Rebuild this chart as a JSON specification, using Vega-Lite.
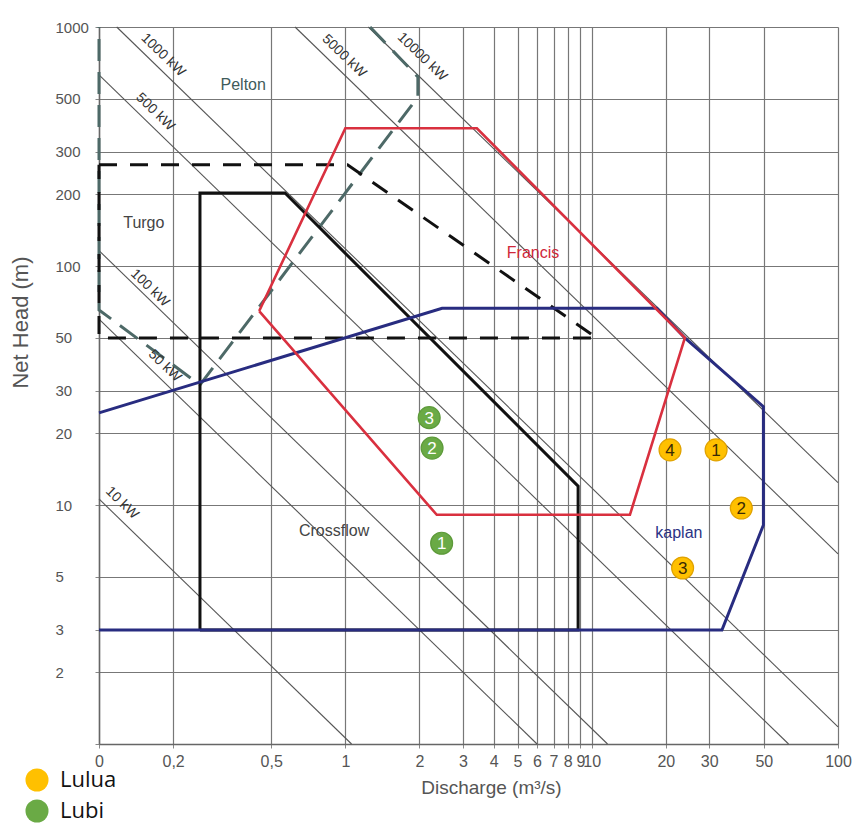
{
  "$schema": "https://vega.github.io/schema/vega-lite/v6.json",
  "width": 739,
  "height": 717,
  "autosize": {"type": "none"},
  "padding": {"left": 99, "top": 27, "right": 17, "bottom": 84},
  "background": "white",
  "config": {"font": "Liberation Sans", "view": {"stroke": null}},
  "datasets": {
    "paths": [
      {"g": "Pelton", "i": 0, "Q": 1.26, "H": 1000},
      {"g": "Pelton", "i": 1, "Q": 1.97, "H": 618},
      {"g": "Pelton", "i": 2, "Q": 1.97, "H": 509},
      {"g": "Pelton", "i": 3, "Q": 0.257, "H": 31.8},
      {"g": "Pelton", "i": 4, "Q": 0.1, "H": 65.5},
      {"g": "Pelton", "i": 5, "Q": 0.1, "H": 1000},
      {"g": "Turgo", "i": 0, "Q": 0.1, "H": 265},
      {"g": "Turgo", "i": 1, "Q": 1.02, "H": 265},
      {"g": "Turgo", "i": 2, "Q": 10.5, "H": 50},
      {"g": "Turgo", "i": 3, "Q": 0.1, "H": 50},
      {"g": "Turgo", "i": 4, "Q": 0.1, "H": 265},
      {"g": "Crossflow", "i": 0, "Q": 0.257, "H": 3},
      {"g": "Crossflow", "i": 1, "Q": 0.257, "H": 202},
      {"g": "Crossflow", "i": 2, "Q": 0.569, "H": 202},
      {"g": "Crossflow", "i": 3, "Q": 8.81, "H": 12.0},
      {"g": "Crossflow", "i": 4, "Q": 8.81, "H": 3},
      {"g": "Crossflow", "i": 5, "Q": 0.257, "H": 3},
      {"g": "Kaplan", "i": 0, "Q": 0.1, "H": 24.3},
      {"g": "Kaplan", "i": 1, "Q": 2.47, "H": 66.5},
      {"g": "Kaplan", "i": 2, "Q": 18.4, "H": 66.5},
      {"g": "Kaplan", "i": 3, "Q": 23.9, "H": 50},
      {"g": "Kaplan", "i": 4, "Q": 49.8, "H": 25.8},
      {"g": "Kaplan", "i": 5, "Q": 49.8, "H": 8.25},
      {"g": "Kaplan", "i": 6, "Q": 33.8, "H": 3},
      {"g": "Kaplan", "i": 7, "Q": 0.1, "H": 3},
      {"g": "Francis", "i": 0, "Q": 0.447, "H": 64.8},
      {"g": "Francis", "i": 1, "Q": 1.0, "H": 377},
      {"g": "Francis", "i": 2, "Q": 3.42, "H": 377},
      {"g": "Francis", "i": 3, "Q": 23.9, "H": 50},
      {"g": "Francis", "i": 4, "Q": 14.3, "H": 9.1},
      {"g": "Francis", "i": 5, "Q": 2.35, "H": 9.1},
      {"g": "Francis", "i": 6, "Q": 0.447, "H": 64.8}
    ],
    "power": [
      {"kw": "10", "Q": 0.1, "H": 10.6}, {"kw": "10", "Q": 1.06, "H": 1},
      {"kw": "50", "Q": 0.1, "H": 60}, {"kw": "50", "Q": 6.0, "H": 1},
      {"kw": "100", "Q": 0.1, "H": 116}, {"kw": "100", "Q": 11.6, "H": 1},
      {"kw": "500", "Q": 0.1, "H": 630}, {"kw": "500", "Q": 63, "H": 1},
      {"kw": "1000", "Q": 0.118, "H": 1000}, {"kw": "1000", "Q": 100, "H": 1.18},
      {"kw": "5000", "Q": 0.625, "H": 1000}, {"kw": "5000", "Q": 100, "H": 6.25},
      {"kw": "10000", "Q": 1.24, "H": 1000}, {"kw": "10000", "Q": 100, "H": 12.4}
    ],
    "powerLabels": [
      {"t": "10 kW", "Q": 0.124, "H": 10.2},
      {"t": "50 kW", "Q": 0.185, "H": 38.2},
      {"t": "100 kW", "Q": 0.161, "H": 80.9},
      {"t": "500 kW", "Q": 0.169, "H": 441},
      {"t": "1000 kW", "Q": 0.182, "H": 763},
      {"t": "5000 kW", "Q": 0.988, "H": 756},
      {"t": "10000 kW", "Q": 2.05, "H": 749}
    ],
    "regionLabels": [
      {"t": "Pelton", "Q": 0.385, "H": 572},
      {"t": "Turgo", "Q": 0.152, "H": 151},
      {"t": "Francis", "Q": 5.78, "H": 113},
      {"t": "Crossflow", "Q": 0.9, "H": 7.79},
      {"t": "kaplan", "Q": 22.6, "H": 7.64}
    ],
    "points": [
      {"site": "Lulua", "n": "1", "Q": 32.0, "H": 17.0},
      {"site": "Lulua", "n": "2", "Q": 40.5, "H": 9.71},
      {"site": "Lulua", "n": "3", "Q": 23.4, "H": 5.45},
      {"site": "Lulua", "n": "4", "Q": 20.8, "H": 17.0},
      {"site": "Lubi", "n": "1", "Q": 2.46, "H": 6.92},
      {"site": "Lubi", "n": "2", "Q": 2.25, "H": 17.3},
      {"site": "Lubi", "n": "3", "Q": 2.19, "H": 23.2}
    ]
  },
  "encoding": {
    "x": {
      "field": "Q", "type": "quantitative",
      "scale": {"type": "log", "domain": [0.1, 100], "nice": false},
      "axis": {
        "values": [0.1, 0.2, 0.5, 1, 2, 3, 4, 5, 6, 7, 8, 9, 10, 20, 30, 50, 100],
        "labelExpr": "datum.value < 0.15 ? '0' : datum.value == 10 ? '\u00a0\u00a010' : replace(format(datum.value, ''), '.', ',')",
        "title": "Discharge (m³/s)",
        "titleFont": "Liberation Sans",
        "titleFontSize": 19, "titleFontWeight": "normal", "titleColor": "#555",
        "titleX": 392, "titleY": 49, "titleAlign": "center", "titleBaseline": "alphabetic",
        "labelFontSize": 16, "labelColor": "#555", "labelOverlap": false, "labelFlush": false,
        "labelPadding": 5, "tickSize": 4, "tickColor": "#888",
        "grid": true, "gridColor": "#777", "gridWidth": 1.2,
        "domainColor": "#666", "domainWidth": 1.5
      }
    },
    "y": {
      "field": "H", "type": "quantitative",
      "scale": {"type": "log", "domain": [1, 1000], "nice": false},
      "axis": {
        "values": [1, 2, 3, 5, 10, 20, 30, 50, 100, 200, 300, 500, 1000],
        "labelExpr": "datum.value == 1 ? '' : format(datum.value, 'd')",
        "title": "Net Head (m)",
        "titleFontSize": 22, "titleFontWeight": "normal", "titleColor": "#555",
        "titleX": -72, "titleY": 295, "titleAlign": "center", "titleBaseline": "alphabetic",
        "labelAlign": "left", "labelPadding": 40, "labelFontSize": 15, "labelColor": "#555",
        "labelOverlap": false, "labelFlush": false,
        "tickSize": 4, "tickColor": "#888",
        "grid": true, "gridColor": "#777", "gridWidth": 1.2,
        "domainColor": "#666", "domainWidth": 1.5
      }
    }
  },
  "layer": [
    {
      "data": {"name": "power"},
      "mark": {"type": "line", "color": "#555", "strokeWidth": 1.1},
      "encoding": {"detail": {"field": "kw"}}
    },
    {
      "data": {"name": "paths"},
      "transform": [{"filter": "datum.g == 'Pelton'"}],
      "mark": {"type": "line", "color": "#4d6967", "strokeWidth": 3, "strokeDash": [22, 11]},
      "encoding": {"order": {"field": "i"}}
    },
    {
      "data": {"name": "paths"},
      "transform": [{"filter": "datum.g == 'Turgo'"}],
      "mark": {"type": "line", "color": "#111", "strokeWidth": 3, "strokeDash": [18, 13]},
      "encoding": {"order": {"field": "i"}}
    },
    {
      "data": {"name": "paths"},
      "transform": [{"filter": "datum.g == 'Crossflow'"}],
      "mark": {"type": "line", "color": "#111", "strokeWidth": 3},
      "encoding": {"order": {"field": "i"}}
    },
    {
      "data": {"name": "paths"},
      "transform": [{"filter": "datum.g == 'Kaplan'"}],
      "mark": {"type": "line", "color": "#282c80", "strokeWidth": 3},
      "encoding": {"order": {"field": "i"}}
    },
    {
      "data": {"name": "paths"},
      "transform": [{"filter": "datum.g == 'Francis'"}],
      "mark": {"type": "line", "color": "#d9303f", "strokeWidth": 2.6},
      "encoding": {"order": {"field": "i"}}
    },
    {
      "data": {"name": "powerLabels"},
      "mark": {"type": "text", "angle": 44, "fontSize": 14, "color": "#333", "align": "center", "baseline": "middle"},
      "encoding": {"text": {"field": "t"}}
    },
    {
      "data": {"name": "regionLabels"},
      "mark": {"type": "text", "fontSize": 16, "align": "center", "baseline": "middle"},
      "encoding": {
        "text": {"field": "t"},
        "color": {
          "condition": [
            {"test": "datum.t == 'Pelton'", "value": "#3f5b5a"},
            {"test": "datum.t == 'Francis'", "value": "#d0283a"},
            {"test": "datum.t == 'kaplan'", "value": "#2b3384"}
          ],
          "value": "#444"
        },
        "fontWeight": {
          "condition": {"test": "datum.t == 'Pelton'", "value": "bold"},
          "value": "normal"
        }
      }
    },
    {
      "data": {"name": "points"},
      "mark": {"type": "circle", "size": 480, "opacity": 1, "strokeWidth": 1.2},
      "encoding": {
        "color": {
          "field": "site", "type": "nominal",
          "scale": {"domain": ["Lulua", "Lubi"], "range": ["#FFC000", "#6AAA45"]},
          "legend": {
            "orient": "none", "legendX": -74, "legendY": 741, "title": null,
            "symbolType": "circle", "symbolSize": 530, "symbolStrokeWidth": 0,
            "labelFont": "Open Sans", "labelFontSize": 22, "labelColor": "#111",
            "labelOffset": 11, "rowPadding": 7, "padding": 0, "offset": 0
          }
        },
        "stroke": {
          "condition": {"test": "datum.site == 'Lulua'", "value": "#e0a200"},
          "value": "#5d9a3a"
        }
      }
    },
    {
      "data": {"name": "points"},
      "mark": {"type": "text", "fontSize": 17, "align": "center", "baseline": "middle", "dy": 1},
      "encoding": {
        "text": {"field": "n"},
        "color": {
          "condition": {"test": "datum.site == 'Lubi'", "value": "white"},
          "value": "#3a2a05"
        },
        "fontWeight": {
          "condition": {"test": "datum.site == 'Lubi'", "value": "bold"},
          "value": "normal"
        }
      }
    }
  ]
}
